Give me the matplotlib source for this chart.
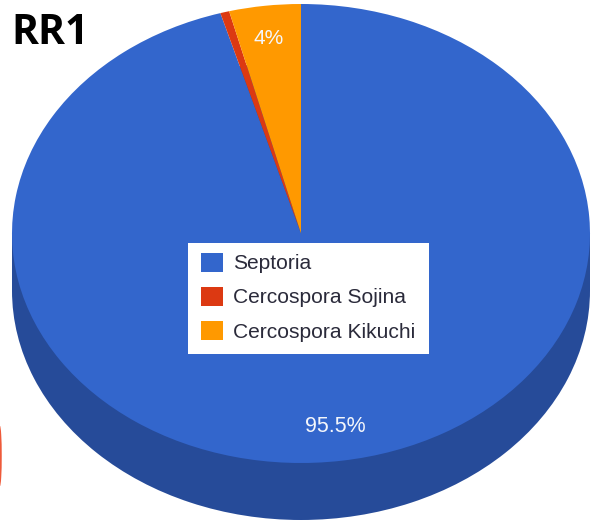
import matplotlib
matplotlib.use("Agg")
import matplotlib.pyplot as plt
from matplotlib.patches import Rectangle, Ellipse

categories = ["Septoria", "Cercospora Sojina", "Cercospora Kikuchi"]
values = [95.5, 0.5, 4.0]
value_labels = ["95.5%", "", "4%"]
colors = ["#3366CC", "#DC3912", "#FF9900"]
side_color = "#264B99"
title = "RR1"

W, H = 592, 524
cx, cy, rx, ry, depth = 301, 233.5, 289, 229.5, 57

fig = plt.figure(figsize=(W / 100, H / 100), dpi=100)
ax = fig.add_axes([0, 0, 1, 1])

d = depth / ry
# side wall of the pseudo-3D pie
ax.pie([sum(values)], colors=[side_color], center=(0, -d), radius=1,
       startangle=90, counterclock=False)
ax.add_patch(Rectangle((-1, -d), 2, d, facecolor=side_color, edgecolor="none", zorder=1))
# top face
wedges, _ = ax.pie(values, colors=colors, center=(0, 0), radius=1,
                   startangle=90, counterclock=False)
for w in wedges:
    w.set_zorder(2)

ax.set_aspect("auto")
ax.set_xlim(-cx / rx, (W - cx) / rx)
ax.set_ylim((cy - H) / ry, cy / ry)
ax.axis("off")

def at(x, y):
    return x / W, 1 - y / H

# stray mark at the left edge of the image
ax.add_patch(Ellipse(((0 - cx) / rx, (cy - 456) / ry), 3.5 / rx, 60 / ry,
                     facecolor="#EE5A3A", edgecolor="none", zorder=3))

for label, (x, y), size in zip(value_labels, [(335.5, 426), (0, 0), (269, 39)], [15.5, 0, 15]):
    if label:
        fig.text(*at(x, y), label, color="#F4F6FB", ha="center", va="center",
                 fontsize=size, family="Liberation Sans")

fig.text(*at(11, 34), title, color="black", ha="left", va="center",
         fontsize=29.5, fontweight="bold", family="Open Sans")

# legend panel
fig.patches.append(Rectangle(at(188, 354), 241 / W, 111 / H, transform=fig.transFigure,
                             facecolor="white", edgecolor="none", zorder=4, figure=fig))

fs = 15.1
fs_px = fs / 0.72
leg = fig.legend(wedges, categories, loc="upper left",
                 bbox_to_anchor=at(201, 252.5),
                 frameon=False, prop={"family": "Liberation Sans", "size": fs},
                 handlelength=21.5 / fs_px, handleheight=21.5 / fs_px,
                 handletextpad=10.5 / fs_px, labelspacing=(35 - 21.5) / fs_px,
                 borderpad=0, borderaxespad=0, labelcolor="#2A2A3A")
leg.set_zorder(5)

fig.savefig("out.png", dpi=100)
